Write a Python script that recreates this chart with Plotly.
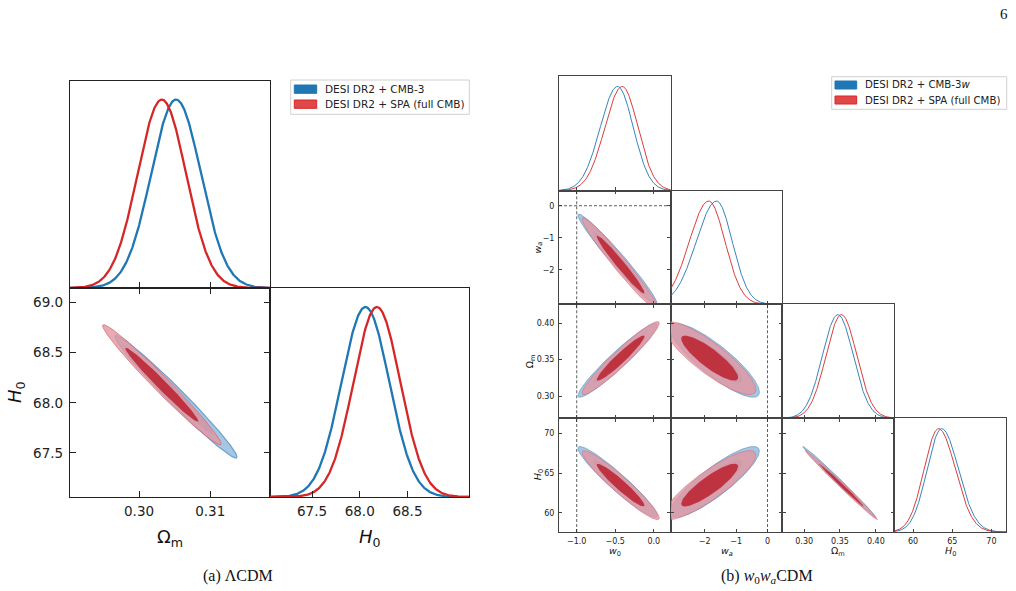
import numpy as np
import plotly.graph_objects as go

W, H = 1016, 591

# ---------------- data : (a) LCDM ----------------
lcdm_names = ["Om", "H0"]
lcdm_blue_mean = [0.3052, 68.06]
lcdm_blue_sigma = [0.0035, 0.25]
lcdm_red_mean = [0.3032, 68.18]
lcdm_red_sigma = [0.0034, 0.245]
lcdm_corr = -0.983
lcdm_range_om = [0.2903, 0.3184]
lcdm_range_h0 = [67.06, 69.145]
lcdm_ticks_om = [0.30, 0.31]
lcdm_ticks_h0_x = [67.5, 68.0, 68.5]
lcdm_ticks_h0_y = [67.5, 68.0, 68.5, 69.0]

# ---------------- data : (b) w0waCDM ----------------
w_names = ["w0", "wa", "Om", "H0"]
w_ranges = [[-1.23, 0.22], [-3.08, 0.47], [0.2695, 0.4258], [57.6, 71.9]]
w_ticks = [[-1.0, -0.5, 0.0], [-2, -1, 0], [0.30, 0.35, 0.40], [60, 65, 70]]
w_tickfmt = [".1f", "d", ".2f", "d"]
# 1D marginals (mode, lower / upper width)
w_blue_mode = [-0.47, -1.62, 0.347, 63.64]
w_blue_sig_lo = [0.225, 0.65, 0.0215, 1.85]
w_blue_sig_hi = [0.205, 0.50, 0.0215, 2.15]
w_red_mode = [-0.41, -1.87, 0.352, 63.25]
w_red_sig_lo = [0.225, 0.62, 0.0215, 1.85]
w_red_sig_hi = [0.205, 0.52, 0.0215, 2.15]
# 2D gaussian approximations
w_blue_mean2d = [-0.47, -1.68, 0.349, 63.9]
w_blue_sigma2d = [0.21, 0.58, 0.0207, 1.82]
w_red_mean2d = [-0.43, -1.84, 0.352, 63.5]
w_red_sigma2d = [0.205, 0.60, 0.0205, 1.78]
w_corr_pairs = [(0, 1), (0, 2), (0, 3), (1, 2), (1, 3), (2, 3)]
w_corr_values = [-0.975, 0.955, -0.95, -0.86, 0.87, -0.995]
w_ref_values = {0: -1.0, 1: 0.0}

legend_labels_a = ["DESI DR2 + CMB-3", "DESI DR2 + SPA (full CMB)"]
legend_labels_b = ["DESI DR2 + CMB-3<i>w</i>", "DESI DR2 + SPA (full CMB)"]

# ---------------- styles ----------------
BLUE = "#1f77b4"
RED = "#d62728"
blue_outer_fill = "rgb(164,200,227)"
blue_outer_line = "rgb(108,160,205)"
blue_inner_fill = "rgb(128,172,212)"
red_outer_fill = "rgba(226,150,160,0.8)"
red_outer_line = "rgba(214,105,115,0.8)"
red_inner_fill = "rgba(190,42,55,0.92)"
R68 = np.sqrt(-2 * np.log(0.32))
R95 = np.sqrt(-2 * np.log(0.05))
SANS = "DejaVu Sans"
SERIF = "Liberation Serif"

fig = go.Figure()
layout = dict(width=W, height=H, margin=dict(l=0, r=0, t=0, b=0),
              paper_bgcolor="white", plot_bgcolor="white", showlegend=False)
shapes, annotations = [], []
counter = [0]


def add_axes(xpx, ypx, xr, yr, is1d, xticks, yticks, xfmt, yfmt,
             showx, showy, big):
    counter[0] += 1
    n = counter[0]
    s = "" if n == 1 else str(n)
    lc = "#222" if big else "#444"
    lw = 1.3 if big else 0.9
    tl = 6 if big else 3.5
    fs = 13.5 if big else 8
    common = dict(showline=True, linecolor=lc, linewidth=lw, showgrid=False,
                  zeroline=False, ticks="inside", ticklen=tl, tickwidth=lw,
                  tickcolor=lc, tickfont=dict(family=SANS, size=fs, color="#222"))
    xa = dict(common, domain=[xpx[0] / W, xpx[1] / W], anchor="y" + s,
              range=xr, tickvals=xticks, tickformat=xfmt, showticklabels=showx,
              mirror=True if is1d else "ticks",
              ticklabelstandoff=(2 if big else 1))
    if is1d:
        ya = dict(common, domain=[1 - ypx[1] / H, 1 - ypx[0] / H], anchor="x" + s,
                  range=yr, ticks="", showticklabels=False, mirror=True)
    else:
        ya = dict(common, domain=[1 - ypx[1] / H, 1 - ypx[0] / H], anchor="x" + s,
                  range=yr, tickvals=yticks, tickformat=yfmt, showticklabels=showy,
                  mirror="ticks", ticklabelstandoff=(3 if big else 2))
    layout["xaxis" + s] = xa
    layout["yaxis" + s] = ya
    return "x" + s, "y" + s


def two_piece(x, mode, slo, shi):
    s = np.where(x < mode, slo, shi)
    return np.exp(-0.5 * ((x - mode) / s) ** 2)


def ellipse(mx, my, sx, sy, rho, r):
    t = np.linspace(0, 2 * np.pi, 241)
    x = mx + sx * r * np.cos(t)
    y = my + sy * r * (rho * np.cos(t) + np.sqrt(1 - rho ** 2) * np.sin(t))
    return x, y


def add_contours(xa, ya, mb, sb, mr, sr, rho, lw):
    specs = [(mb, sb, R95, blue_outer_fill, blue_outer_line, lw),
             (mb, sb, R68, blue_inner_fill, None, 0),
             (mr, sr, R95, red_outer_fill, red_outer_line, lw * 0.8),
             (mr, sr, R68, red_inner_fill, None, 0)]
    for m, s, r, fc, lcol, w in specs:
        x, y = ellipse(m[0], m[1], s[0], s[1], rho, r)
        fig.add_trace(go.Scatter(x=x, y=y, xaxis=xa, yaxis=ya, mode="lines",
                                 fill="toself", fillcolor=fc,
                                 line=dict(color=lcol if lcol else "rgba(0,0,0,0)",
                                           width=w if lcol else 0),
                                 hoverinfo="skip"))


# ================= (a) LCDM =================
LX = [70, 270, 469]
LY = [80.7, 288, 497]
# 1D Omega_m
xa, ya = add_axes([LX[0], LX[1]], [LY[0], LY[1]], lcdm_range_om, [0, 1.1], True,
                  lcdm_ticks_om, None, ".2f", None, False, False, True)
g = np.linspace(*lcdm_range_om, 400)
for m, s, c in [(lcdm_blue_mean[0], lcdm_blue_sigma[0], BLUE),
                (lcdm_red_mean[0], lcdm_red_sigma[0], RED)]:
    fig.add_trace(go.Scatter(x=g, y=two_piece(g, m, s, s), xaxis=xa, yaxis=ya,
                             mode="lines", line=dict(color=c, width=2.3)))
# 2D
xa, ya = add_axes([LX[0], LX[1]], [LY[1], LY[2]], lcdm_range_om, lcdm_range_h0, False,
                  lcdm_ticks_om, lcdm_ticks_h0_y, ".2f", ".1f", True, True, True)
add_contours(xa, ya, lcdm_blue_mean, lcdm_blue_sigma, lcdm_red_mean, lcdm_red_sigma,
             lcdm_corr, 1.2)
# 1D H0
xa, ya = add_axes([LX[1], LX[2]], [LY[1], LY[2]], lcdm_range_h0, [0, 1.1], True,
                  lcdm_ticks_h0_x, None, ".1f", None, True, False, True)
g = np.linspace(*lcdm_range_h0, 400)
for m, s, c in [(lcdm_blue_mean[1], lcdm_blue_sigma[1], BLUE),
                (lcdm_red_mean[1], lcdm_red_sigma[1], RED)]:
    fig.add_trace(go.Scatter(x=g, y=two_piece(g, m, s, s), xaxis=xa, yaxis=ya,
                             mode="lines", line=dict(color=c, width=2.3)))

# ================= (b) w0waCDM =================
CX = [559, 670.7, 782.3, 894.3, 1006.3]
RY = [76, 190.7, 304.3, 418.3, 532]
corr = {p: v for p, v in zip(w_corr_pairs, w_corr_values)}
for i in range(4):
    for j in range(i + 1):
        is1d = i == j
        xr = w_ranges[j]
        yr = [0, 1.1] if is1d else w_ranges[i]
        xa, ya = add_axes([CX[j], CX[j + 1]], [RY[i], RY[i + 1]], xr, yr, is1d,
                          w_ticks[j], w_ticks[i], w_tickfmt[j], w_tickfmt[i],
                          i == 3, j == 0 and not is1d, False)
        if is1d:
            g = np.linspace(*xr, 400)
            for mode, slo, shi, c in [
                    (w_blue_mode[i], w_blue_sig_lo[i], w_blue_sig_hi[i], BLUE),
                    (w_red_mode[i], w_red_sig_lo[i], w_red_sig_hi[i], RED)]:
                fig.add_trace(go.Scatter(x=g, y=two_piece(g, mode, slo, shi),
                                         xaxis=xa, yaxis=ya, mode="lines",
                                         line=dict(color=c, width=0.9)))
        else:
            add_contours(xa, ya,
                         [w_blue_mean2d[j], w_blue_mean2d[i]],
                         [w_blue_sigma2d[j], w_blue_sigma2d[i]],
                         [w_red_mean2d[j], w_red_mean2d[i]],
                         [w_red_sigma2d[j], w_red_sigma2d[i]],
                         corr[(j, i)], 0.8)
            if j in w_ref_values:
                shapes.append(dict(type="line", xref=xa, yref=ya + " domain",
                                   x0=w_ref_values[j], x1=w_ref_values[j], y0=0, y1=1,
                                   line=dict(color="#333", width=0.8, dash="3px,2px")))
            if i in w_ref_values:
                shapes.append(dict(type="line", xref=xa + " domain", yref=ya,
                                   x0=0, x1=1, y0=w_ref_values[i], y1=w_ref_values[i],
                                   line=dict(color="#333", width=0.8, dash="3px,2px")))


# ---------------- texts ----------------
def ann(text, px, py, size, family=SANS, angle=0, xanchor="center", color="#111"):
    annotations.append(dict(text=text, x=px / W, y=1 - py / H, xref="paper", yref="paper",
                            showarrow=False, xanchor=xanchor, yanchor="middle",
                            textangle=angle, font=dict(family=family, size=size, color=color)))


ann("Ω<sub>m</sub>", 170, 538, 18)
ann("<i>H</i><sub>0</sub>", 370, 538, 18)
ann("<i>H</i><sub>0</sub>", 16, 392, 18, angle=-90)

w_titles = ["<i>w</i><sub>0</sub>", "<i>w<sub>a</sub></i>", "Ω<sub>m</sub>", "<i>H</i><sub>0</sub>"]
w_ytitle_x = [None, 538, 530, 538]
for k in range(4):
    ann(w_titles[k], (CX[k] + CX[k + 1]) / 2, 551, 9.5)
for k in range(1, 4):
    ann(w_titles[k], w_ytitle_x[k], (RY[k] + RY[k + 1]) / 2, 9.5, angle=-90)

ann("(a) ΛCDM", 238, 576, 16, family=SERIF)
ann("(b) <i>w</i><sub>0</sub><i>w<sub>a</sub></i>CDM", 767, 576, 16, family=SERIF)
ann("6", 1004, 14, 15, family=SERIF)


def legend(box, patch_x, patch_ys, text_x, labels, size):
    shapes.append(dict(type="rect", xref="paper", yref="paper",
                       x0=box[0] / W, x1=box[2] / W, y0=1 - box[3] / H, y1=1 - box[1] / H,
                       line=dict(color="#d0d0d0", width=1), fillcolor="rgba(255,255,255,0.8)"))
    cols = [(BLUE, BLUE), ("#e04848", RED)]
    for (fc, lc), (y0, y1), lab in zip(cols, patch_ys, labels):
        shapes.append(dict(type="rect", xref="paper", yref="paper",
                           x0=patch_x[0] / W, x1=patch_x[1] / W, y0=1 - y1 / H, y1=1 - y0 / H,
                           line=dict(color=lc, width=1), fillcolor=fc))
        ann(lab, text_x, (y0 + y1) / 2, size, xanchor="left", color="#222")


legend([290.7, 80, 469.3, 114.3], [294.3, 316.7], [(85, 93.3), (100, 108.3)], 323,
       legend_labels_a, 10.5)
legend([831.7, 76.7, 1006.7, 109.3], [835, 856.7], [(81, 89), (96, 104)], 863,
       legend_labels_b, 10.2)

layout["shapes"] = shapes
layout["annotations"] = annotations
fig.update_layout(**layout)
fig.write_html("out.html")
